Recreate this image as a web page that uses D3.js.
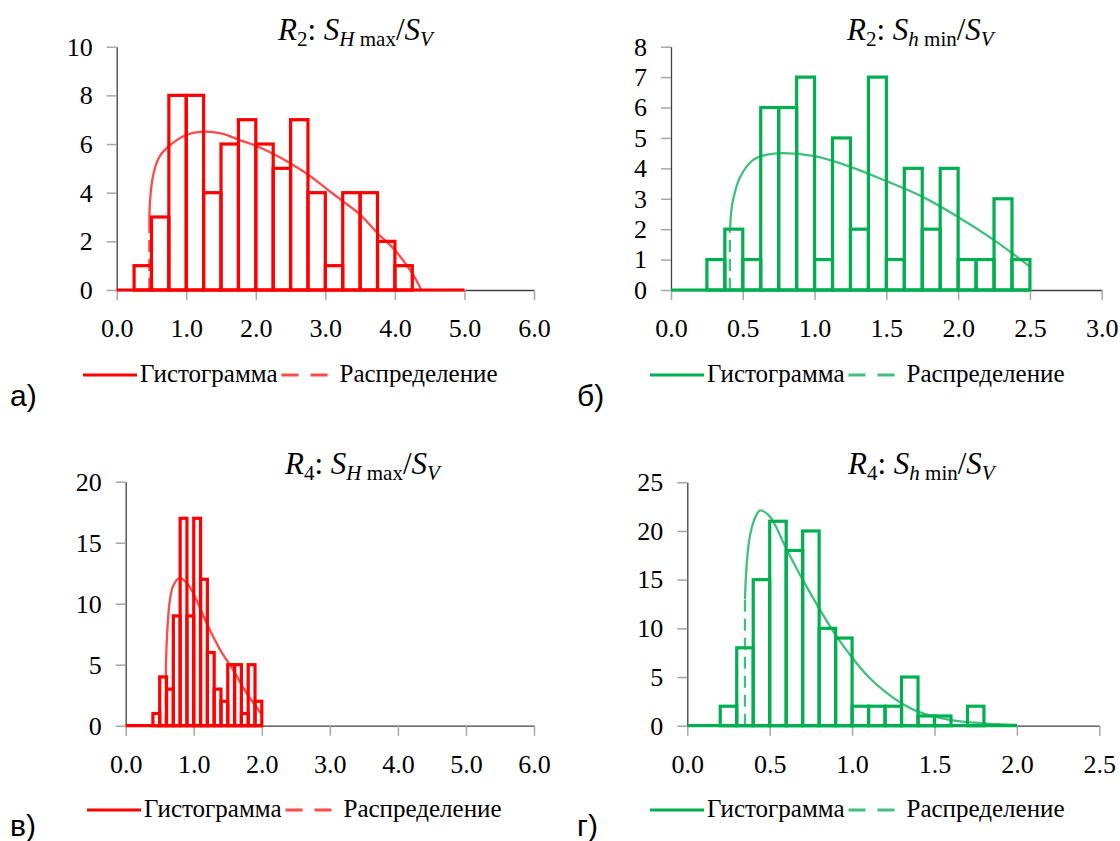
<!DOCTYPE html>
<html><head><meta charset="utf-8">
<script src="https://cdn.jsdelivr.net/npm/d3@7"></script>
<style>body{margin:0;background:#fff}</style>
</head><body><svg id="c" width="1120" height="841"></svg>
<script>
// ---------- DATA ----------
// а) R2: SHmax/SV
const binStartA = 0.25, binWidthA = 0.25;
const countsA = [1,3,8,8,4,6,7,6,5,7,4,1,4,4,2,1];
const baseA = [0, 5.0];
const curveA = [[0.47,0],[0.47,2.5],[0.48,3.7],[0.53,4.8],[0.62,5.5],[0.77,5.96],[1.0,6.37],[1.2,6.5],[1.5,6.44],[1.77,6.16],[2.0,5.93],[2.25,5.6],[2.5,5.2],[2.73,4.79],[3.0,4.2],[3.25,3.65],[3.5,3.1],[3.75,2.33],[4.0,1.64],[4.25,0.68],[4.38,0]];
const xTicksA = [0,1,2,3,4,5,6];
const yTicksA = [0,2,4,6,8,10];

// б) R2: Shmin/SV
const binStartB = 0.25, binWidthB = 0.125;
const countsB = [1,2,1,6,6,7,1,5,2,7,1,4,2,4,1,1,3,1];
const baseB = [0, 2.5];
const curveB = [[0.41,0],[0.41,1.9],[0.42,2.6],[0.434,3.0],[0.48,3.7],[0.57,4.27],[0.67,4.45],[0.77,4.5],[1.0,4.4],[1.25,4.05],[1.5,3.58],[1.75,3.07],[2.0,2.4],[2.25,1.64],[2.5,0.77]];
const xTicksB = [0,0.5,1,1.5,2,2.5,3];
const yTicksB = [0,1,2,3,4,5,6,7,8];

// в) R4: SHmax/SV
const binStartC = 0.4, binWidthC = 0.1;
const countsC = [1,4,3,9,17,9,17,12,6,3,2,5,5,1,5,2];
const baseC = [0, 2.0];
const curveC = [[0.59,0],[0.59,3.5],[0.6,6.5],[0.65,10.3],[0.7,11.5],[0.79,12.1],[0.9,11.7],[1.04,10.3],[1.19,8.4],[1.39,6.2],[1.58,4.56],[1.78,2.65],[1.99,1.0]];
const xTicksC = [0,1,2,3,4,5,6];
const yTicksC = [0,5,10,15,20];

// г) R4: Shmin/SV
const binStartD = 0.2, binWidthD = 0.1;
const countsD = [2,8,15,21,18,20,10,9,2,2,2,5,1,1,0,2];
const baseD = [0, 2.0];
const curveD = [[0.35,0],[0.35,13],[0.36,16.5],[0.38,19.5],[0.41,21.3],[0.44,22.1],[0.5,21.5],[0.6,18.2],[0.7,15],[0.8,12.05],[0.9,9.3],[1.0,7.0],[1.1,5.0],[1.2,3.5],[1.3,2.3],[1.4,1.44],[1.6,0.58],[1.8,0.24],[2.0,0.07]];
const xTicksD = [0,0.5,1,1.5,2,2.5];
const yTicksD = [0,5,10,15,20,25];

const titleA = [["R","i"],["2","s"],[": ",""],["S","i"],["H","is"],[" max","s"],["/",""],["S","i"],["V","is"]];
const titleB = [["R","i"],["2","s"],[": ",""],["S","i"],["h","is"],[" min","s"],["/",""],["S","i"],["V","is"]];
const titleC = [["R","i"],["4","s"],[": ",""],["S","i"],["H","is"],[" max","s"],["/",""],["S","i"],["V","is"]];
const titleD = [["R","i"],["4","s"],[": ",""],["S","i"],["h","is"],[" min","s"],["/",""],["S","i"],["V","is"]];

const legendLabels = ["Гистограмма", "Распределение"];
const panelLabels = ["а)", "б)", "в)", "г)"];

// ---------- LAYOUT ----------
const RED = "#ff0000", RED_C = "#ff4a4a", GREEN = "#00b050", GREEN_C = "#40c07c";
const SERIF = "'Liberation Serif','Times New Roman',serif";
const SANS = "'Liberation Sans',Arial,sans-serif";

const panels = [
  {bs:binStartA,bw:binWidthA,counts:countsA,base:baseA,curve:curveA,xt:xTicksA,yt:yTicksA,title:titleA,label:panelLabels[0],
   left:116.7,right:534,top:46.7,bottom:290,col:RED,colC:RED_C,tx:278,ty:40,lx:83,ly:375,labX:10,labY:406},
  {bs:binStartB,bw:binWidthB,counts:countsB,base:baseB,curve:curveB,xt:xTicksB,yt:yTicksB,title:titleB,label:panelLabels[1],
   left:671,right:1101.7,top:46.7,bottom:290,col:GREEN,colC:GREEN_C,tx:847,ty:40,lx:650,ly:375,labX:577,labY:406},
  {bs:binStartC,bw:binWidthC,counts:countsC,base:baseC,curve:curveC,xt:xTicksC,yt:yTicksC,title:titleC,label:panelLabels[2],
   left:125.7,right:534,top:481.7,bottom:725.7,col:RED,colC:RED_C,tx:285,ty:474,lx:87,ly:810,labX:10,labY:836},
  {bs:binStartD,bw:binWidthD,counts:countsD,base:baseD,curve:curveD,xt:xTicksD,yt:yTicksD,title:titleD,label:panelLabels[3],
   left:687.3,right:1099.3,top:482.3,bottom:725.7,col:GREEN,colC:GREEN_C,tx:848,ty:474,lx:650,ly:810,labX:577,labY:836}
];

const svg = d3.select("#c");

function styleAxis(g){
  g.attr("font-family", SERIF).attr("font-size", 26);
  g.select(".domain").attr("stroke", "#404040").attr("stroke-width", 1.3);
  g.selectAll(".tick line").attr("stroke", "#a6a6a6").attr("stroke-width", 1.5);
  g.selectAll(".tick text").attr("fill", "#000");
}

panels.forEach(p => {
  const xMax = p.xt[p.xt.length-1], yMax = p.yt[p.yt.length-1];
  const x = d3.scaleLinear().domain([0, xMax]).range([p.left, p.right]);
  const y = d3.scaleLinear().domain([0, yMax]).range([p.bottom, p.top]);

  const gy = svg.append("g").attr("transform", `translate(${p.left},0)`)
    .call(d3.axisLeft(y).tickValues(p.yt).tickSize(10).tickSizeOuter(0).tickPadding(14).tickFormat(d3.format("d")));
  styleAxis(gy);
  const gx = svg.append("g").attr("transform", `translate(0,${p.bottom})`)
    .call(d3.axisBottom(x).tickValues(p.xt).tickSize(10).tickSizeOuter(0).tickPadding(19).tickFormat(d3.format(".1f")));
  styleAxis(gx);

  // distribution curve
  svg.append("path").attr("d", d3.line().x(d=>x(d[0])).y(d=>y(d[1]))(p.curve.slice(0,2)))
    .attr("fill","none").attr("stroke", p.colC).attr("stroke-width", 2.3).attr("stroke-dasharray","12,7");
  svg.append("path").attr("d", d3.line().x(d=>x(d[0])).y(d=>y(d[1])).curve(d3.curveCatmullRom.alpha(0.5))(p.curve.slice(1)))
    .attr("fill","none").attr("stroke", p.colC).attr("stroke-width", 2.3);

  // histogram
  svg.append("line").attr("x1", x(p.base[0])).attr("x2", x(p.base[1])).attr("y1", y(0)).attr("y2", y(0))
    .attr("stroke", p.col).attr("stroke-width", 3.2);
  svg.append("g").selectAll("rect").data(p.counts.map((c,i)=>({x0:p.bs+i*p.bw, c})).filter(d=>d.c>0))
    .join("rect")
    .attr("x", d=>x(d.x0)).attr("width", d=>x(d.x0+p.bw)-x(d.x0))
    .attr("y", d=>y(d.c)).attr("height", d=>y(0)-y(d.c))
    .attr("fill","none").attr("stroke", p.col).attr("stroke-width", 3.2);

  // title
  const t = svg.append("text").attr("x", p.tx).attr("y", p.ty).attr("font-family", SERIF).attr("font-size", 31).attr("fill","#000");
  let sub = false;
  p.title.forEach(([s, f]) => {
    const isSub = f.includes("s");
    const ts = t.append("tspan").text(s);
    if (f.includes("i")) ts.attr("font-style","italic");
    if (isSub) ts.attr("font-size", 21);
    if (isSub && !sub) ts.attr("dy", 6);
    if (!isSub && sub) ts.attr("dy", -6);
    sub = isSub;
  });

  // legend
  const lg = svg.append("g").attr("font-family", SERIF).attr("font-size", 25);
  let cx = p.lx;
  lg.append("line").attr("x1", cx).attr("x2", cx+54).attr("y1", p.ly).attr("y2", p.ly).attr("stroke", p.col).attr("stroke-width", 3);
  cx += 57;
  const t1 = lg.append("text").attr("x", cx).attr("y", p.ly+7).text(legendLabels[0]);
  cx += t1.node().getComputedTextLength() + 4;
  lg.append("line").attr("x1", cx).attr("x2", cx+48).attr("y1", p.ly).attr("y2", p.ly).attr("stroke", p.colC).attr("stroke-width", 3).attr("stroke-dasharray","17,12");
  cx += 58;
  lg.append("text").attr("x", cx).attr("y", p.ly+7).text(legendLabels[1]);

  // panel label
  svg.append("text").attr("x", p.labX).attr("y", p.labY).attr("font-family", SANS).attr("font-size", 30).text(p.label);
});
</script></body></html>
